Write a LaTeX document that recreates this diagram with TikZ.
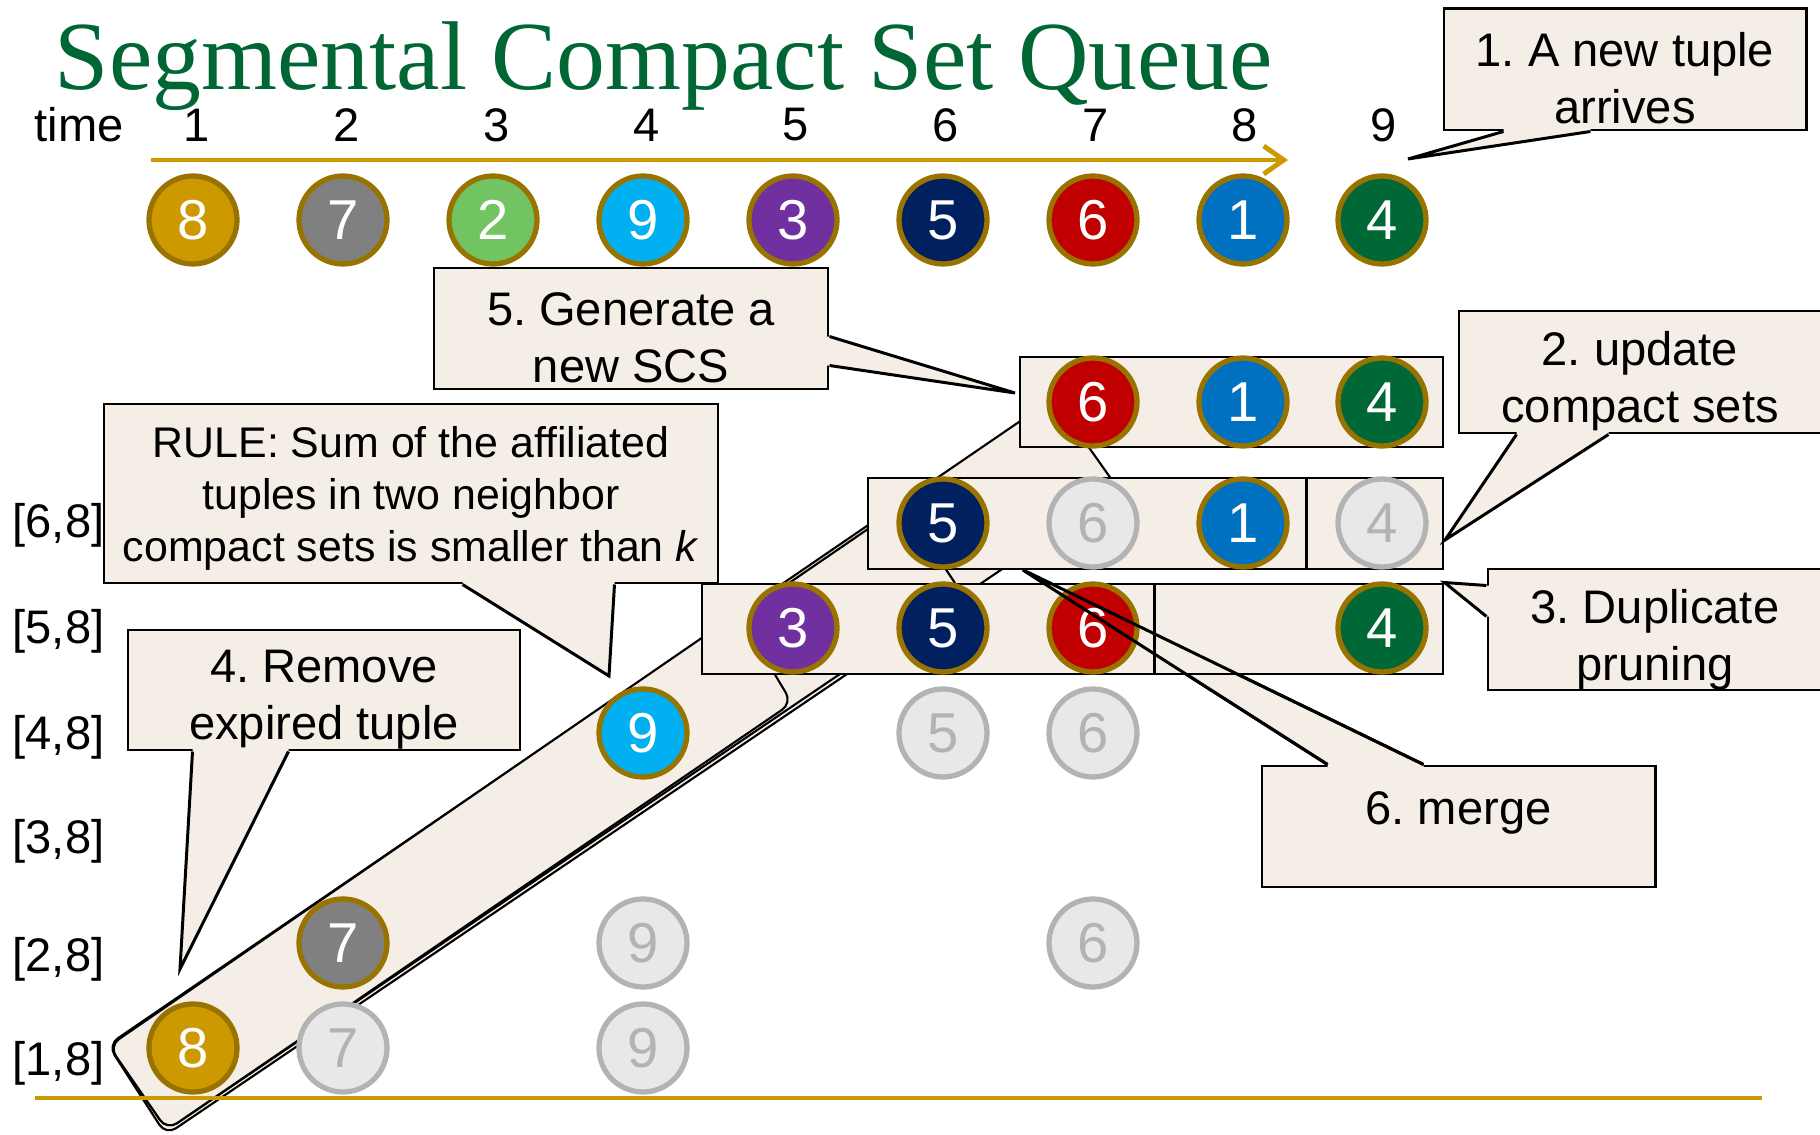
\documentclass[tikz,border=0pt]{standalone}
\usepackage{fontspec}
\setmainfont{Liberation Sans}
\newfontfamily\titlefont{Liberation Serif}
\usetikzlibrary{positioning, calc, arrows.meta}
\frenchspacing

\definecolor{scsgold}{HTML}{CC9900}
\definecolor{scsring}{HTML}{997300}
\definecolor{scsgreen}{HTML}{006633}
\definecolor{notebg}{HTML}{F4EEE6}
\definecolor{ghostfill}{HTML}{E8E8E8}
\definecolor{ghostline}{HTML}{B3B3B3}
\definecolor{tgray}{HTML}{808080}
\definecolor{tlgreen}{HTML}{72C462}
\definecolor{tcyan}{HTML}{00B0F0}
\definecolor{tpurple}{HTML}{7030A0}
\definecolor{tnavy}{HTML}{002060}
\definecolor{tred}{HTML}{C00000}
\definecolor{tblue}{HTML}{0070C0}
\definecolor{tdgreen}{HTML}{006837}

\tikzset{
	tuple/.style={
			circle,
			draw=scsring,
			line width=1.5pt,
			minimum size=8.8mm,
			inner sep=0pt,
			text=white,
			font=\fontsize{16}{16}\selectfont
		},
	ghost/.style={
			tuple,
			draw=ghostline,
			fill=ghostfill,
			text=ghostline
		},
	setbox/.style={
			draw=black,
			fill=notebg,
			line width=0.85pt,
			inner sep=0pt
		},
	notetext/.style={
			align=center,
			inner sep=0pt,
			font=\fontsize{13.4}{16.3}\selectfont
		},
	noteline/.style={
			draw=black,
			line width=0.85pt
		},
	band/.style={
			draw=black,
			fill=notebg,
			line width=0.6pt,
			rounded corners=1.2mm
		},
	lbl/.style={
			inner sep=0pt,
			font=\fontsize{13.4}{16}\selectfont
		}
}

% pointer of a note: base a, tip, base b, shift into the box
\newcommand{\notetip}[4]{%
  \fill[notebg] ($(#1)+(#4)$) -- (#1) -- (#2) -- (#3) -- ($(#3)+(#4)$) -- cycle;
  \draw[noteline] (#1) -- (#2) -- (#3);
}

\begin{document}
\begin{tikzpicture}
\useasboundingbox (0,0) rectangle (18.20,-11.35);

% diagonal bands behind the sets
\draw[band] (1.08,-10.45) -- (1.66,-11.35) -- (11.19,-4.90) -- (10.54,-3.98) -- cycle;
\draw[band] (1.10,-10.48) -- (1.67,-11.30) -- (9.61,-5.92) -- (9.03,-5.05) -- cycle;
\draw[band] (1.09,-10.46) -- (1.67,-11.30) -- (7.92,-7.03) -- (7.38,-6.13) -- cycle;

\coordinate (baseL) at (0.35,-10.98);
\coordinate (baseR) at (17.62,-10.98);
\draw[scsgold, line width=1.1pt] (baseL) -- (baseR);

% merge note sits under the sets
\node[setbox, minimum width=3.93cm, minimum height=1.21cm] (merge) at (14.585,-8.265) {};
\node[notetext, anchor=north] (mergeText) at ([yshift=-2.6mm]merge.north) {6. merge};
\coordinate (mergeA) at ([xshift=6.7mm]merge.north west);
\coordinate (mergeB) at ([xshift=16.3mm]merge.north west);
\coordinate (mergeTip) at (10.23,-5.70);
\notetip{mergeA}{mergeTip}{mergeB}{0,-1.2pt}

% compact sets
\node[setbox, minimum width=7.41cm, minimum height=0.90cm] (box58) at (10.725,-6.29) {};
\node[setbox, minimum width=5.75cm, minimum height=0.91cm] (box68) at (11.555,-5.235) {};
\node[setbox, minimum width=4.23cm, minimum height=0.90cm] (scsbox) at (12.315,-4.02) {};
\draw[noteline] ([xshift=45.4mm]box58.north west) -- ([xshift=45.4mm]box58.south west);
\draw[noteline] ([xshift=44.0mm]box68.north west) -- ([xshift=44.0mm]box68.south west);

% notes
\node[setbox, minimum width=3.62cm, minimum height=1.21cm] (arrive) at (16.25,-0.695) {};
\node[notetext] (arriveText) at ([yshift=-0.9mm]arrive.center) {1. A new tuple\\arrives};
\coordinate (arriveA) at ([xshift=6.1mm]arrive.south west);
\coordinate (arriveB) at ([xshift=14.8mm]arrive.south west);
\coordinate (arriveTip) at (14.08,-1.59);
\notetip{arriveA}{arriveTip}{arriveB}{0,1.2pt}

\node[setbox, minimum width=3.62cm, minimum height=1.22cm] (update) at (16.40,-3.72) {};
\node[notetext] (updateText) at ([yshift=-1.0mm]update.center) {2. update\\compact sets};
\coordinate (updateA) at ([xshift=5.9mm]update.south west);
\coordinate (updateB) at ([xshift=15.1mm]update.south west);
\coordinate (updateTip) at (14.45,-5.40);
\notetip{updateA}{updateTip}{updateB}{0,1.2pt}

\node[setbox, minimum width=3.34cm, minimum height=1.21cm] (dup) at (16.55,-6.295) {};
\node[notetext] (dupText) at ([yshift=-1.0mm]dup.center) {3. Duplicate\\pruning};
\coordinate (dupA) at ([yshift=-1.8mm]dup.north west);
\coordinate (dupB) at ([yshift=-4.9mm]dup.north west);
\notetip{dupA}{box58.north east}{dupB}{1.2pt,0}

\node[setbox, minimum width=3.94cm, minimum height=1.21cm] (generate) at (6.31,-3.285) {};
\node[notetext] (generateText) at ([yshift=-0.9mm]generate.center) {5. Generate a\\new SCS};
\coordinate (generateA) at ([yshift=-7.0mm]generate.north east);
\coordinate (generateB) at ([yshift=-9.9mm]generate.north east);
\coordinate (generateTip) at (10.15,-3.93);
\notetip{generateA}{generateTip}{generateB}{-1.2pt,0}

\node[setbox, minimum width=6.14cm, minimum height=1.79cm] (rule) at (4.11,-4.935) {};
\node[notetext, font=\fontsize{12.2}{14.7}\selectfont] (ruleText) at ([yshift=-0.5mm]rule.center)
  {RULE: Sum of the affiliated\\tuples in two neighbor\\compact sets is smaller than \textit{k}};
\coordinate (ruleA) at ([xshift=36.0mm]rule.south west);
\coordinate (ruleB) at ([xshift=51.2mm]rule.south west);
\coordinate (ruleTip) at (6.09,-6.76);
\notetip{ruleA}{ruleTip}{ruleB}{0,1.2pt}

\node[setbox, minimum width=3.92cm, minimum height=1.20cm] (remove) at (3.24,-6.90) {};
\node[notetext] (removeText) at ([yshift=-1.0mm]remove.center) {4. Remove\\expired tuple};
\coordinate (removeA) at ([xshift=6.6mm]remove.south west);
\coordinate (removeB) at ([xshift=16.2mm]remove.south west);
\coordinate (removeTip) at (1.80,-9.69);
\notetip{removeA}{removeTip}{removeB}{0,1.2pt}

% arriving tuples
\node[tuple, fill=scsgold] (a8) at (1.93,-2.20) {8};
\node[tuple, fill=tgray] (a7) at (3.43,-2.20) {7};
\node[tuple, fill=tlgreen] (a2) at (4.93,-2.20) {2};
\node[tuple, fill=tcyan] (a9) at (6.43,-2.20) {9};
\node[tuple, fill=tpurple] (a3) at (7.93,-2.20) {3};
\node[tuple, fill=tnavy] (a5) at (9.43,-2.20) {5};
\node[tuple, fill=tred] (a6) at (10.93,-2.20) {6};
\node[tuple, fill=tblue] (a1) at (12.43,-2.20) {1};
\node[tuple, fill=tdgreen] (a4) at (13.82,-2.20) {4};

% new SCS
\node[tuple, fill=tred] (s6) at (10.93,-4.02) {6};
\node[tuple, fill=tblue] (s1) at (12.43,-4.02) {1};
\node[tuple, fill=tdgreen] (s4) at (13.82,-4.02) {4};

% [6,8]
\node[tuple, fill=tnavy] (p5) at (9.43,-5.23) {5};
\node[ghost] (p6) at (10.93,-5.23) {6};
\node[tuple, fill=tblue] (p1) at (12.43,-5.23) {1};
\node[ghost] (p4) at (13.82,-5.23) {4};

% [5,8]
\node[tuple, fill=tpurple] (q3) at (7.93,-6.28) {3};
\node[tuple, fill=tnavy] (q5) at (9.43,-6.28) {5};
\node[tuple, fill=tred] (q6) at (10.93,-6.28) {6};
\node[tuple, fill=tdgreen] (q4) at (13.82,-6.28) {4};

% [4,8]
\node[tuple, fill=tcyan] (u9) at (6.43,-7.33) {9};
\node[ghost] (u5) at (9.43,-7.33) {5};
\node[ghost] (u6) at (10.93,-7.33) {6};

% [2,8]
\node[tuple, fill=tgray] (v7) at (3.43,-9.43) {7};
\node[ghost] (v9) at (6.43,-9.43) {9};
\node[ghost] (v6) at (10.93,-9.43) {6};

% [1,8]
\node[tuple, fill=scsgold] (w8) at (1.93,-10.48) {8};
\node[ghost] (w7) at (3.43,-10.48) {7};
\node[ghost] (w9) at (6.43,-10.48) {9};

\draw[noteline] (mergeA) -- (mergeTip) -- (mergeB);

% title and time axis
\node[anchor=base west, inner sep=0pt, text=scsgreen, font=\titlefont\fontsize{27.8}{30}\selectfont] (title) at (0.54,-0.90) {Segmental Compact Set Queue};
\node[lbl] (time) at (0.79,-1.25) {time};
\node[lbl] (k1) at (1.97,-1.25) {1};
\node[lbl] (k2) at (3.47,-1.25) {2};
\node[lbl] (k3) at (4.97,-1.25) {3};
\node[lbl] (k4) at (6.47,-1.25) {4};
\node[lbl] (k5) at (7.96,-1.25) {5};
\node[lbl] (k6) at (9.46,-1.25) {6};
\node[lbl] (k7) at (10.96,-1.25) {7};
\node[lbl] (k8) at (12.45,-1.25) {8};
\node[lbl] (k9) at (13.84,-1.25) {9};
\coordinate (axisL) at (1.51,-1.60);
\coordinate (axisR) at (12.88,-1.60);
\draw[scsgold, line width=1.4pt, -{Straight Barb[length=2mm, width=2.8mm]}] (axisL) -- (axisR);

% windows
\node[lbl, anchor=west] (w68) at (0.12,-5.25) {[6,8]};
\node[lbl, anchor=west] (w58) at (0.12,-6.31) {[5,8]};
\node[lbl, anchor=west] (w48) at (0.12,-7.37) {[4,8]};
\node[lbl, anchor=west] (w38) at (0.12,-8.41) {[3,8]};
\node[lbl, anchor=west] (w28) at (0.12,-9.59) {[2,8]};
\node[lbl, anchor=west] (w18) at (0.12,-10.63) {[1,8]};
\end{tikzpicture}
\end{document}
